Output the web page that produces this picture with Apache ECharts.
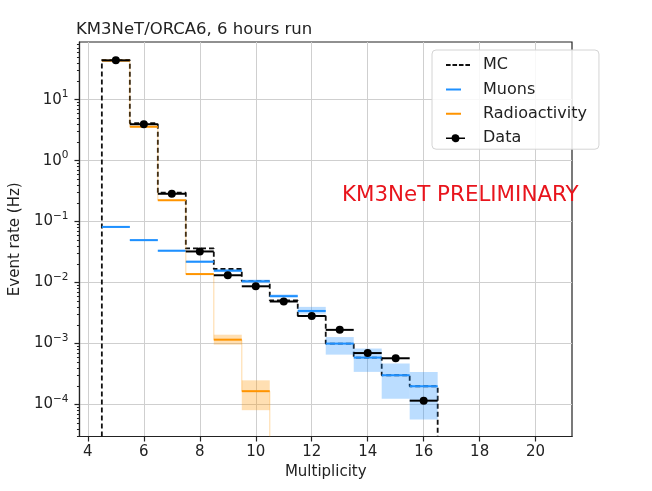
<!DOCTYPE html>
<html>
<head>
<meta charset="utf-8">
<script src="https://cdn.jsdelivr.net/npm/echarts@6/dist/echarts.min.js"></script>
<style>
  html, body { margin: 0; padding: 0; background: #ffffff; }
  #chart { width: 652px; height: 491px; }
</style>
</head>
<body>
<div id="chart"></div>
<script>
// Multiplicity bins (centres, unit width)
const multiplicity = [5, 6, 7, 8, 9, 10, 11, 12, 13, 14, 15, 16];

// Total Monte Carlo prediction (Hz)
const mcRate = [44.5, 4.1, 0.297, 0.0363, 0.0167, 0.0106, 0.0051, 0.00284, 0.00100, 0.00059, 0.000303, 0.000200];

// Measured event rate (Hz)
const dataRate = [44, 3.95, 0.286, 0.0324, 0.0132, 0.0087, 0.0049, 0.00284, 0.00168, 0.00070, 0.000575, 0.000116];

// Atmospheric muon contribution and its uncertainty band (Hz)
const muonRate = [0.0818, 0.0497, 0.0333, 0.0220, 0.0157, 0.0105, 0.0060, 0.00343, 0.00100, 0.00059, 0.000303, 0.000200];
const muonLow  = [0.079, 0.048, 0.0322, 0.0211, 0.0149, 0.0098, 0.0057, 0.0031, 0.00066, 0.000344, 0.000125, 0.000057];
const muonHigh = [0.085, 0.0515, 0.0345, 0.0229, 0.0165, 0.0112, 0.0064, 0.0040, 0.00128, 0.00083, 0.00047, 0.000344];

// Radioactive background contribution and its uncertainty band (Hz)
const radioBins = [5, 6, 7, 8, 9, 10];
const radioRate = [43.5, 3.59, 0.224, 0.0138, 0.00116, 0.000166];
const radioLow  = [43.0, 3.52, 0.219, 0.0134, 0.00096, 0.000081];
const radioHigh = [44.0, 3.66, 0.229, 0.0142, 0.00140, 0.00025];

// Axis ticks
const xTicks = [4, 6, 8, 10, 12, 14, 16, 18, 20];
const yTicks = [1e-4, 1e-3, 1e-2, 1e-1, 1, 10];

const X_MIN = 3.7, X_MAX = 21.3;
const Y_MIN = 3e-5, Y_MAX = 88;
const HALF = 0.5;

const BLUE = '#1e90ff';
const BLUE_BAND = 'rgba(30,144,255,0.3)';
const ORANGE = '#ff9400';
const ORANGE_BAND = 'rgba(255,148,0,0.3)';
const FONT = 'DejaVu Sans';

// minor log ticks: 2..9 times each decade
const yMinorTicks = [];
for (let e = -5; e <= 1; e++) {
  for (let k = 2; k <= 9; k++) {
    const v = k * Math.pow(10, e);
    if (v > Y_MIN && v < Y_MAX) yMinorTicks.push(v);
  }
}

// MC histogram outline: rises at the first edge, drops at the last one
const mcSteps = [[multiplicity[0] - HALF, Y_MIN]];
multiplicity.forEach((m, i) => mcSteps.push([m - HALF, mcRate[i]]));
mcSteps.push([multiplicity[multiplicity.length - 1] + HALF, mcRate[mcRate.length - 1]]);
mcSteps.push([multiplicity[multiplicity.length - 1] + HALF, Y_MIN]);

function bandRenderer(rates, color, band, connectors) {
  return function (params, api) {
    const i = params.dataIndex;
    const x = api.value(0), v = api.value(1), lo = api.value(2), hi = api.value(3);
    const tl = api.coord([x - HALF, hi]);
    const br = api.coord([x + HALF, lo]);
    const a = api.coord([x - HALF, v]);
    const b = api.coord([x + HALF, v]);
    const children = [
      { type: 'rect', shape: { x: tl[0], y: tl[1], width: br[0] - tl[0], height: br[1] - tl[1] },
        style: { fill: band } },
      { type: 'line', shape: { x1: a[0], y1: a[1], x2: b[0], y2: b[1] },
        style: { stroke: color, lineWidth: 2 } }
    ];
    if (connectors) {
      const next = i + 1 < rates.length ? rates[i + 1] : Y_MIN;
      const p = api.coord([x + HALF, v]);
      const q = api.coord([x + HALF, next]);
      children.push({ type: 'line', shape: { x1: p[0], y1: p[1], x2: q[0], y2: q[1] },
        style: { stroke: color, lineWidth: 1.2, opacity: 0.3 } });
    }
    return { type: 'group', children: children };
  };
}

function supLabel(v) {
  const e = Math.round(Math.log10(v));
  const s = e < 0 ? '\u2212' + (-e) : String(e);
  return '10{s|' + s + '}';
}

const chart = echarts.init(document.getElementById('chart'), null, { renderer: 'canvas' });

chart.setOption({
  animation: false,
  backgroundColor: '#ffffff',
  textStyle: { fontFamily: FONT },
  title: [
    { text: 'KM3NeT/ORCA6, 6 hours run', left: 76, top: 21, padding: 0,
      textStyle: { fontFamily: FONT, fontSize: 16.5, fontWeight: 'normal', color: '#222' } },
    { text: 'KM3NeT PRELIMINARY', left: 342, top: 185, padding: 0,
      textStyle: { fontFamily: FONT, fontSize: 21.4, fontWeight: 'normal', color: '#e8141c' } }
  ],
  grid: { left: 76, right: 80, top: 42, bottom: 54.5, show: true,
          borderColor: '#222', borderWidth: 1.2, backgroundColor: 'transparent' },
  legend: {
    orient: 'vertical', left: 432, top: 50,
    itemWidth: 24, itemHeight: 10, itemGap: 8.4,
    backgroundColor: 'rgba(255,255,255,0.85)', borderColor: '#d4d4d4', borderWidth: 1, borderRadius: 4,
    padding: [7, 12, 3, 14],
    textStyle: { fontFamily: FONT, fontSize: 16, color: '#222', padding: [0, 0, 0, 8] },
    data: [
      { name: 'MC', icon: 'path://M0,0H4.5V1.8H0Z M6.3,0H10.8V1.8H6.3Z M12.6,0H17.1V1.8H12.6Z M18.9,0H23.4V1.8H18.9Z',
        itemStyle: { color: '#111' } },
      { name: 'Muons', icon: 'path://M0,0H15V2H0Z M24,1Z', itemStyle: { color: BLUE } },
      { name: 'Radioactivity', icon: 'path://M0,0H15V2H0Z M24,1Z', itemStyle: { color: ORANGE } },
      { name: 'Data', icon: 'path://M0,5.25H5.57A4,4 0 0 1 13.43,5.25H19V6.75H13.43A4,4 0 0 1 5.57,6.75H0Z M24,6Z',
        itemStyle: { color: '#000' } }
    ]
  },
  xAxis: {
    type: 'value', min: X_MIN, max: X_MAX,
    name: 'Multiplicity', nameLocation: 'middle', nameGap: 27,
    nameTextStyle: { fontFamily: FONT, fontSize: 15, color: '#222' },
    axisLine: { show: true, lineStyle: { color: '#222', width: 1.2 } },
    axisTick: { show: true, customValues: xTicks, length: 5, lineStyle: { color: '#222', width: 1.2 } },
    axisLabel: { customValues: xTicks, margin: 8, fontFamily: FONT, fontSize: 15, color: '#222' },
    splitLine: { show: true, lineStyle: { color: '#cfcfcf', width: 1 } }
  },
  yAxis: [
    {
      type: 'log', logBase: 10, min: Y_MIN, max: Y_MAX,
      name: 'Event rate (Hz)', nameLocation: 'middle', nameGap: 50,
      nameTextStyle: { fontFamily: FONT, fontSize: 15, color: '#222' },
      axisLine: { show: true, lineStyle: { color: '#222', width: 1.2 } },
      axisTick: { show: true, customValues: yTicks, length: 5, lineStyle: { color: '#222', width: 1.2 } },
      axisLabel: {
        customValues: yTicks, margin: 11, formatter: supLabel,
        fontFamily: FONT, fontSize: 15, color: '#222',
        rich: { s: { fontFamily: FONT, fontSize: 10.5, color: '#222', padding: [0, 0, 10, 0] } }
      },
      splitLine: { show: true, lineStyle: { color: '#cfcfcf', width: 1 } }
    },
    {
      type: 'log', logBase: 10, min: Y_MIN, max: Y_MAX, position: 'left',
      axisLine: { show: false },
      axisTick: { show: true, customValues: yMinorTicks, length: 2.5, lineStyle: { color: '#222', width: 1 } },
      axisLabel: { show: false },
      splitLine: { show: false }
    }
  ],
  series: [
    {
      name: 'MC', type: 'line', step: 'end', symbol: 'none',
      data: mcSteps,
      lineStyle: { color: '#111', width: 1.8, type: [5, 3] },
      itemStyle: { color: '#111' },
      z: 2
    },
    {
      name: 'Muons', type: 'custom', coordinateSystem: 'cartesian2d',
      itemStyle: { color: BLUE },
      data: multiplicity.map((m, i) => [m, muonRate[i], muonLow[i], muonHigh[i]]),
      renderItem: bandRenderer(muonRate, BLUE, BLUE_BAND, false),
      z: 3
    },
    {
      name: 'Radioactivity', type: 'custom', coordinateSystem: 'cartesian2d',
      itemStyle: { color: ORANGE },
      data: radioBins.map((m, i) => [m, radioRate[i], radioLow[i], radioHigh[i]]),
      renderItem: bandRenderer(radioRate, ORANGE, ORANGE_BAND, true),
      z: 3
    },
    {
      name: 'Data', type: 'custom', coordinateSystem: 'cartesian2d',
      itemStyle: { color: '#000' },
      data: multiplicity.map((m, i) => [m, dataRate[i]]),
      renderItem: function (params, api) {
        const x = api.value(0), v = api.value(1);
        const a = api.coord([x - HALF, v]);
        const b = api.coord([x + HALF, v]);
        const c = api.coord([x, v]);
        return {
          type: 'group',
          children: [
            { type: 'line', shape: { x1: a[0], y1: a[1], x2: b[0], y2: b[1] },
              style: { stroke: '#000', lineWidth: 2 } },
            { type: 'circle', shape: { cx: c[0], cy: c[1], r: 4 }, style: { fill: '#000' } }
          ]
        };
      },
      z: 4
    }
  ]
});
</script>
</body>
</html>
